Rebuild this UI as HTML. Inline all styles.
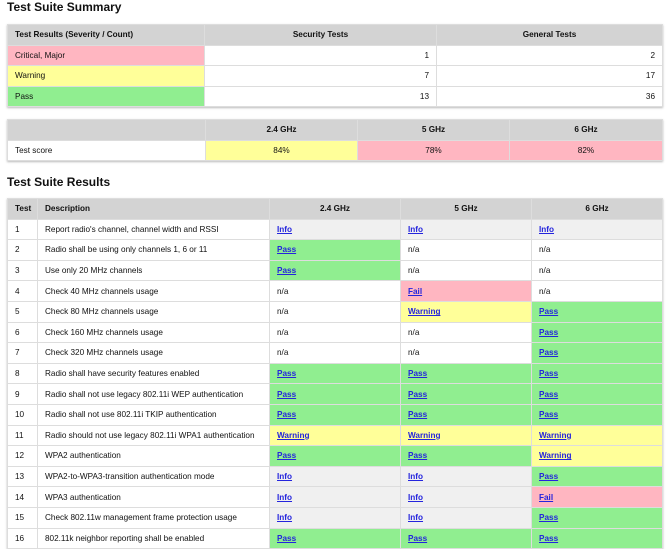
<!DOCTYPE html>
<html><head><style>
body{margin:0;width:670px;height:546px;overflow:hidden;background:#fff;font-family:"Liberation Sans",Arial,sans-serif;font-size:8.2px;color:#111}
h2{position:absolute;left:7px;margin:0;font-size:12px;font-weight:bold}
table{position:absolute;left:7px;width:655px;border-collapse:collapse;table-layout:fixed;box-shadow:0 1px 2px #bbb}
td,th{border:1px solid #ddd;padding:0 7px;height:19.6px;white-space:nowrap;overflow:hidden}
th{background:#d3d3d3;font-weight:bold;text-align:center}
th.l{text-align:left}
.r{text-align:right}.c{text-align:center}
.p{background:#ffb6c1}.y{background:#ffff99}.g{background:#90ee90}.i{background:#f0f0f0}
a{color:#2424dd;font-weight:bold;text-decoration:underline}
</style></head><body>
<h2 style="top:0">Test Suite Summary</h2>
<table style="top:24px">
<colgroup><col style="width:197px"><col style="width:232px"><col style="width:226px"></colgroup>
<tr><th class="l">Test Results (Severity / Count)</th><th>Security Tests</th><th>General Tests</th></tr>
<tr><td class="p">Critical, Major</td><td class="r">1</td><td class="r">2</td></tr>
<tr><td class="y">Warning</td><td class="r">7</td><td class="r">17</td></tr>
<tr><td class="g">Pass</td><td class="r">13</td><td class="r">36</td></tr>
</table>
<table style="top:119px">
<colgroup><col style="width:198px"><col style="width:152px"><col style="width:152px"><col style="width:153px"></colgroup>
<tr><th></th><th>2.4 GHz</th><th>5 GHz</th><th>6 GHz</th></tr>
<tr><td>Test score</td><td class="y c">84%</td><td class="p c">78%</td><td class="p c">82%</td></tr>
</table>
<h2 style="top:175px">Test Suite Results</h2>
<table style="top:198px">
<colgroup><col style="width:30px"><col style="width:232px"><col style="width:131px"><col style="width:131px"><col style="width:131px"></colgroup>
<tr><th>Test</th><th class="l">Description</th><th>2.4 GHz</th><th>5 GHz</th><th>6 GHz</th></tr>
<tr><td>1</td><td>Report radio's channel, channel width and RSSI</td><td class="i"><a>Info</a></td><td class="i"><a>Info</a></td><td class="i"><a>Info</a></td></tr>
<tr><td>2</td><td>Radio shall be using only channels 1, 6 or 11</td><td class="g"><a>Pass</a></td><td>n/a</td><td>n/a</td></tr>
<tr><td>3</td><td>Use only 20 MHz channels</td><td class="g"><a>Pass</a></td><td>n/a</td><td>n/a</td></tr>
<tr><td>4</td><td>Check 40 MHz channels usage</td><td>n/a</td><td class="p"><a>Fail</a></td><td>n/a</td></tr>
<tr><td>5</td><td>Check 80 MHz channels usage</td><td>n/a</td><td class="y"><a>Warning</a></td><td class="g"><a>Pass</a></td></tr>
<tr><td>6</td><td>Check 160 MHz channels usage</td><td>n/a</td><td>n/a</td><td class="g"><a>Pass</a></td></tr>
<tr><td>7</td><td>Check 320 MHz channels usage</td><td>n/a</td><td>n/a</td><td class="g"><a>Pass</a></td></tr>
<tr><td>8</td><td>Radio shall have security features enabled</td><td class="g"><a>Pass</a></td><td class="g"><a>Pass</a></td><td class="g"><a>Pass</a></td></tr>
<tr><td>9</td><td>Radio shall not use legacy 802.11i WEP authentication</td><td class="g"><a>Pass</a></td><td class="g"><a>Pass</a></td><td class="g"><a>Pass</a></td></tr>
<tr><td>10</td><td>Radio shall not use 802.11i TKIP authentication</td><td class="g"><a>Pass</a></td><td class="g"><a>Pass</a></td><td class="g"><a>Pass</a></td></tr>
<tr><td>11</td><td>Radio should not use legacy 802.11i WPA1 authentication</td><td class="y"><a>Warning</a></td><td class="y"><a>Warning</a></td><td class="y"><a>Warning</a></td></tr>
<tr><td>12</td><td>WPA2 authentication</td><td class="g"><a>Pass</a></td><td class="g"><a>Pass</a></td><td class="y"><a>Warning</a></td></tr>
<tr><td>13</td><td>WPA2-to-WPA3-transition authentication mode</td><td class="i"><a>Info</a></td><td class="i"><a>Info</a></td><td class="g"><a>Pass</a></td></tr>
<tr><td>14</td><td>WPA3 authentication</td><td class="i"><a>Info</a></td><td class="i"><a>Info</a></td><td class="p"><a>Fail</a></td></tr>
<tr><td>15</td><td>Check 802.11w management frame protection usage</td><td class="i"><a>Info</a></td><td class="i"><a>Info</a></td><td class="g"><a>Pass</a></td></tr>
<tr><td>16</td><td>802.11k neighbor reporting shall be enabled</td><td class="g"><a>Pass</a></td><td class="g"><a>Pass</a></td><td class="g"><a>Pass</a></td></tr>
</table>
</body></html>
